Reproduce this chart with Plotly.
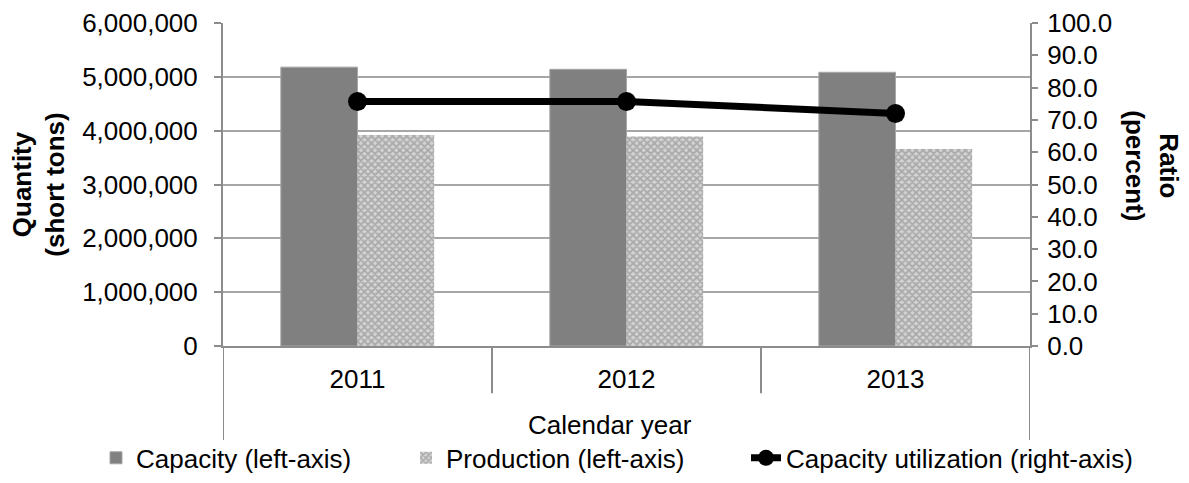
import plotly.graph_objects as go

years = ["2011", "2012", "2013"]
capacity = [5180000, 5140000, 5085000]
production = [3920000, 3890000, 3660000]
utilization = [75.7, 75.7, 72.0]

AX = "#8c8c8c"
FONT = "Liberation Sans, Arial, sans-serif"

fig = go.Figure()
fig.add_bar(
    x=years, y=capacity, name="Capacity (left-axis)", legend="legend",
    marker=dict(color="#808080", line=dict(color="#a6a6a6", width=1)),
)
fig.add_bar(
    x=years, y=production, name="Production (left-axis)", legend="legend2",
    marker=dict(
        color="#d4d4d4",
        line=dict(color="#d0d0d0", width=0),
        pattern=dict(shape="x", fgcolor="#808080", bgcolor="#d4d4d4", size=5, solidity=0.6),
    ),
)
fig.add_scatter(
    x=years, y=utilization, yaxis="y2", name="Capacity utilization (right-axis)",
    legend="legend3",
    mode="lines+markers",
    line=dict(color="black", width=7),
    marker=dict(color="black", size=19),
)

def leg(xpx):
    return dict(
        orientation="h", xref="container", yref="container",
        x=xpx / 1189, xanchor="left", y=0.052, yanchor="middle",
        font=dict(size=26), bgcolor="rgba(0,0,0,0)",
    )

fig.update_layout(
    width=1189, height=483,
    margin=dict(l=223, r=159, t=23, b=137, autoexpand=False),
    paper_bgcolor="white", plot_bgcolor="white",
    font=dict(family=FONT, size=26, color="black"),
    barmode="group", bargap=0.43, bargroupgap=0,
    showlegend=True,
    legend=leg(96),
    legend2=leg(406),
    legend3=leg(746),
    xaxis=dict(
        type="category", range=[-0.5, 2.5],
        showline=True, linecolor=AX, linewidth=2,
        ticks="", showgrid=False, ticklabelstandoff=9,
    ),
    yaxis=dict(
        range=[0, 6000000], dtick=1000000, tickformat=",",
        showgrid=True, gridcolor="#a6a6a6", gridwidth=2,
        showline=True, linecolor=AX, linewidth=2,
        ticks="outside", ticklen=7, tickcolor=AX, tickwidth=2,
        zeroline=False, ticklabelstandoff=11,
    ),
    yaxis2=dict(
        overlaying="y", side="right", range=[0, 100], dtick=10, tickformat=".1f",
        showgrid=False, showline=True, linecolor=AX, linewidth=2,
        ticks="outside", ticklen=6, tickcolor=AX, tickwidth=2,
        zeroline=False, ticklabelstandoff=4,
    ),
    annotations=[
        dict(text="<b>Quantity<br>(short tons)</b>", textangle=-90, xref="paper", yref="paper",
             x=-0.229, y=0.5, xanchor="center", yanchor="middle", showarrow=False,
             font=dict(size=26)),
        dict(text="<b>Ratio<br>(percent)</b>", textangle=90, xref="paper", yref="paper",
             x=1.151, y=0.557, xanchor="center", yanchor="middle", showarrow=False,
             font=dict(size=26)),
        dict(text="Calendar year", xref="paper", yref="paper",
             x=0.48, y=-0.245, xanchor="center", yanchor="middle", showarrow=False,
             font=dict(size=26)),
    ],
    shapes=[
        dict(type="line", xref="x", yref="paper", x0=0.5, x1=0.5, y0=0, y1=-0.146,
             line=dict(color=AX, width=2)),
        dict(type="line", xref="x", yref="paper", x0=1.5, x1=1.5, y0=0, y1=-0.146,
             line=dict(color=AX, width=2)),
        dict(type="line", xref="x", yref="paper", x0=-0.5, x1=-0.5, y0=0, y1=-0.291,
             line=dict(color=AX, width=2)),
        dict(type="line", xref="x", yref="paper", x0=2.5, x1=2.5, y0=0, y1=-0.291,
             line=dict(color=AX, width=2)),
    ],
)

fig.write_html("out.html")
